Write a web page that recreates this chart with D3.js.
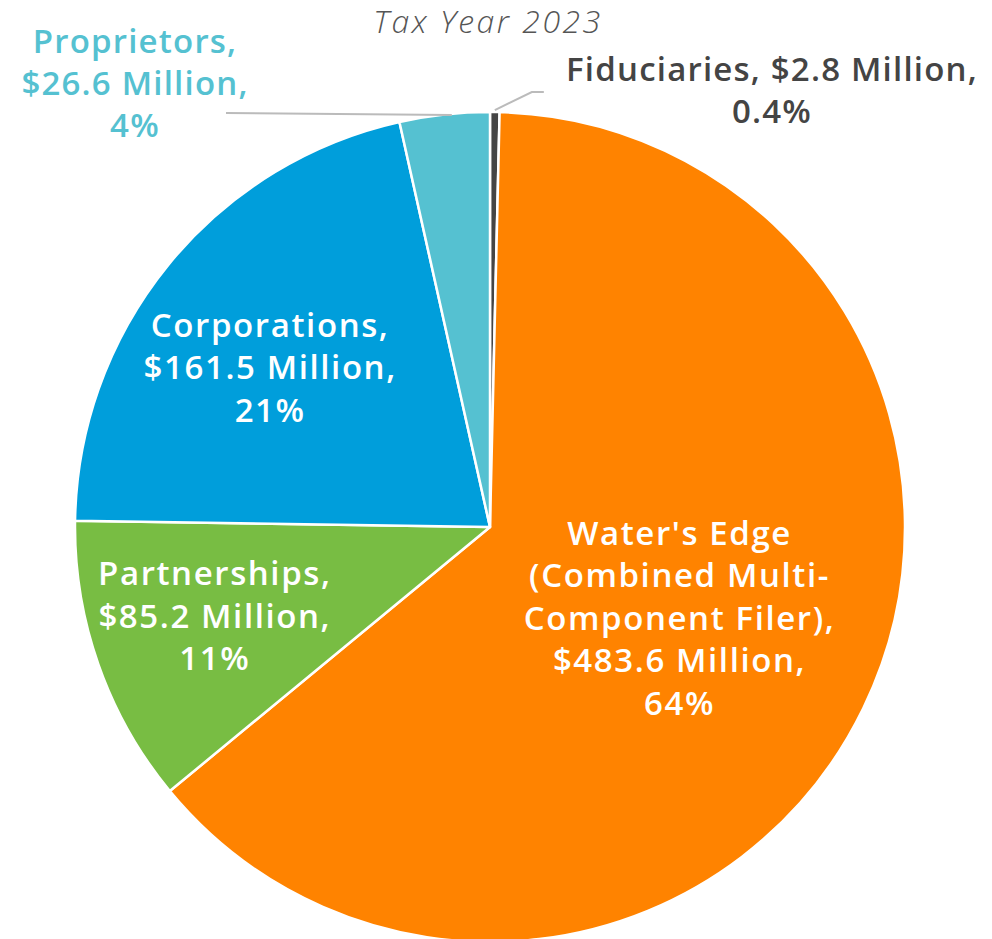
<!DOCTYPE html>
<html>
<head>
<meta charset="utf-8">
<script src="https://cdn.jsdelivr.net/npm/d3@7"></script>
<style>
  body { margin: 0; background: #fff; }
  svg { display: block; font-family: "Open Sans", sans-serif; }
</style>
</head>
<body>
<div id="chart"></div>
<script>
// slices in clockwise order starting at 12 o'clock
const categories = ["Fiduciaries", "Water's Edge", "Partnerships", "Corporations", "Proprietors"];
const amounts = [2.8, 483.6, 85.2, 161.5, 26.6];
const percents = ["0.4%", "64%", "11%", "21%", "4%"];
const labelLines = [
  ["Fiduciaries, $2.8 Million,", "0.4%"],
  ["Water's Edge", "(Combined Multi-", "Component Filer),", "$483.6 Million,", "64%"],
  ["Partnerships,", "$85.2 Million,", "11%"],
  ["Corporations,", "$161.5 Million,", "21%"],
  ["Proprietors,", "$26.6 Million,", "4%"]
];
const colors = ["#454545", "#ff8300", "#78bd43", "#009edb", "#55c1d1"];

const width = 992, height = 939,
  cx = 490, cy = 527, radius = 415;

const data = categories.map((c, i) => ({ name: c, value: amounts[i], pct: percents[i], lines: labelLines[i], color: colors[i] }));

const arcs = d3.pie().sort(null).value(d => d.value)(data);
const arc = d3.arc().innerRadius(0).outerRadius(radius);

const svg = d3.select("#chart")
  .append("svg")
  .attr("width", width)
  .attr("height", height);

const g = svg.append("g").attr("transform", `translate(${cx},${cy})`);

g.append("g")
  .attr("stroke", "white")
  .attr("stroke-width", 2.5)
  .attr("stroke-linejoin", "round")
  .selectAll("path")
  .data(arcs)
  .join("path")
  .attr("fill", d => d.data.color)
  .attr("d", arc);

// inside labels: radius as fraction of outer radius, plus a small nudge
const insideLabel = {
  "Water's Edge": { r: 0.505, dx: 1, dy: 0 },
  "Partnerships": { r: 0.69, dx: -5, dy: -5 },
  "Corporations": { r: 0.655, dx: -9, dy: 13 }
};
const lineH = 42.5;

g.append("g")
  .attr("text-anchor", "middle")
  .attr("fill", "white")
  .attr("font-size", 33)
  .attr("font-weight", 600)
  .attr("letter-spacing", 1.6)
  .selectAll("text")
  .data(arcs.filter(d => insideLabel[d.data.name]))
  .join("text")
  .attr("transform", d => {
    const o = insideLabel[d.data.name];
    const r = radius * o.r;
    const c = d3.arc().innerRadius(r).outerRadius(r).centroid(d);
    return `translate(${c[0] + o.dx},${c[1] + o.dy})`;
  })
  .selectAll("tspan")
  .data(d => d.data.lines.map((t, i, a) => ({ t, off: (i - (a.length - 1) / 2) * lineH })))
  .join("tspan")
  .attr("x", 0)
  .attr("y", d => d.off + 11)
  .text(d => d.t);

// title
svg.append("text")
  .attr("x", 488)
  .attr("y", 33)
  .attr("text-anchor", "middle")
  .attr("font-size", 32)
  .attr("font-weight", 300)
  .attr("font-style", "italic")
  .attr("letter-spacing", 2.5)
  .attr("fill", "#555")
  .text("Tax Year 2023");

// outside labels
const prop = arcs[4], fid = arcs[0];
const propText = svg.append("text")
  .attr("text-anchor", "middle")
  .attr("font-size", 33)
  .attr("font-weight", 600)
  .attr("letter-spacing", 1.2)
  .attr("fill", prop.data.color);
propText.selectAll("tspan")
  .data(prop.data.lines)
  .join("tspan")
  .attr("x", 135)
  .attr("y", (d, i) => 53 + i * 42)
  .text(d => d);

const fidText = svg.append("text")
  .attr("text-anchor", "middle")
  .attr("font-size", 33)
  .attr("font-weight", 600)
  .attr("letter-spacing", 1.2)
  .attr("fill", "#444");
fidText.selectAll("tspan")
  .data(fid.data.lines)
  .join("tspan")
  .attr("x", 772)
  .attr("y", (d, i) => 81 + i * 42)
  .text(d => d);

// leader lines
const edgePt = (d, extra) => {
  const a = (d.startAngle + d.endAngle) / 2;
  return [cx + Math.sin(a) * (radius + extra), cy - Math.cos(a) * (radius + extra)];
};
const pp = [cx + Math.sin(prop.endAngle - 0.08) * radius, cy - radius + 1];
svg.append("path")
  .attr("fill", "none")
  .attr("stroke", "#bbb")
  .attr("stroke-width", 2)
  .attr("d", d3.line()([[226, 113], [pp[0] - 5, 115]]));

const fp = edgePt(fid, 2);
svg.append("path")
  .attr("fill", "none")
  .attr("stroke", "#bbb")
  .attr("stroke-width", 2)
  .attr("d", d3.line()([fp, [fp[0] + 37, 92], [fp[0] + 49, 92]]));
</script>
</body>
</html>
